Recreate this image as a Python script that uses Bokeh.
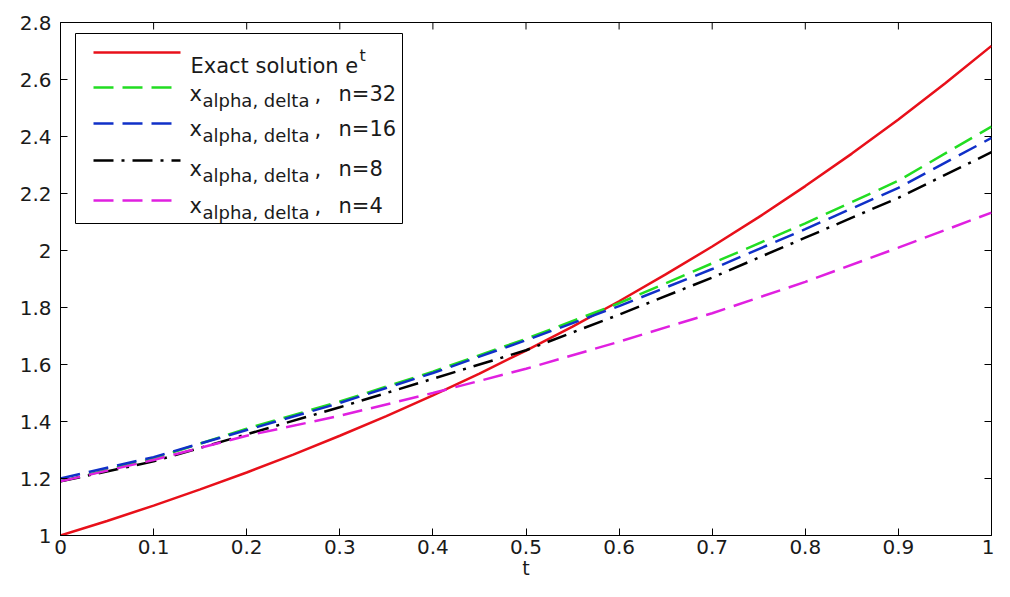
from bokeh.plotting import figure
from bokeh.models import Range1d, FixedTicker, BoxAnnotation, Label, Arrow
from bokeh.embed import file_html
from bokeh.resources import INLINE

# ---- data ----
t_exact = [0.0, 0.05, 0.1, 0.15, 0.2, 0.25, 0.3, 0.35, 0.4, 0.45, 0.5,
           0.55, 0.6, 0.65, 0.7, 0.75, 0.8, 0.85, 0.9, 0.95, 1.0]
exact = [1.000, 1.051, 1.105, 1.162, 1.221, 1.284, 1.350, 1.419, 1.492, 1.568, 1.649,
         1.733, 1.822, 1.916, 2.014, 2.117, 2.226, 2.340, 2.460, 2.586, 2.718]

t = [0.0, 0.1, 0.2, 0.3, 0.4, 0.5, 0.6, 0.7, 0.8, 0.9, 1.0]
n32 = [1.19, 1.27, 1.375, 1.47, 1.575, 1.69, 1.815, 1.955, 2.095, 2.245, 2.435]
n16 = [1.20, 1.275, 1.37, 1.465, 1.57, 1.685, 1.805, 1.935, 2.075, 2.22, 2.395]
n8 = [1.19, 1.26, 1.355, 1.45, 1.55, 1.65, 1.775, 1.905, 2.045, 2.185, 2.345]
n4 = [1.19, 1.265, 1.35, 1.42, 1.50, 1.585, 1.68, 1.78, 1.89, 2.01, 2.133]

x_ticks = [0, 0.1, 0.2, 0.3, 0.4, 0.5, 0.6, 0.7, 0.8, 0.9, 1]
x_tick_labels = ["0", "0.1", "0.2", "0.3", "0.4", "0.5", "0.6", "0.7", "0.8", "0.9", "1"]
y_ticks = [1, 1.2, 1.4, 1.6, 1.8, 2, 2.2, 2.4, 2.6, 2.8]
y_tick_labels = ["1", "1.2", "1.4", "1.6", "1.8", "2", "2.2", "2.4", "2.6", "2.8"]

legend_labels = ["n=32", "n=16", "n=8", "n=4"]

# ---- styling ----
FONT = "DejaVu Sans"
TXT = "#1a1a1a"
RED = "#e8101a"
GREEN = "#22dd22"
BLUE = "#1030c8"
BLACK = "#000000"
MAGENTA = "#e020e0"
DASH = "20 9"
DASHDOT = "20 8 3 8"
LW = 2.5
TICK = 7

X0, X1, Y0, Y1 = 0.0, 1.0, 1.0, 2.8
W, H = 994, 581
ML, MR, MT = 60, 3, 22

p = figure(width=W, height=H, output_backend="svg", toolbar_location=None,
           x_range=Range1d(X0, X1), y_range=Range1d(Y0, Y1),
           min_border_left=ML, min_border_right=MR, min_border_top=MT, min_border_bottom=30)
p.background_fill_color = "white"
p.border_fill_color = "white"
p.outline_line_color = "black"
p.outline_line_width = 1
p.grid.visible = False

def key(v):
    return "%g" % v

for ax, ticks, labels in ((p.xaxis[0], x_ticks, x_tick_labels), (p.yaxis[0], y_ticks, y_tick_labels)):
    ax.ticker = FixedTicker(ticks=ticks)
    ax.major_label_overrides = {key(v): s for v, s in zip(ticks, labels)}
    ax.major_tick_in = TICK
    ax.major_tick_out = 0
    ax.minor_tick_in = 0
    ax.minor_tick_out = 0
    ax.axis_line_color = "black"
    ax.major_tick_line_color = "black"
    ax.major_label_text_font = FONT
    ax.major_label_text_font_size = "20px"
    ax.major_label_text_color = TXT

p.xaxis[0].major_label_standoff = 4
p.yaxis[0].major_label_standoff = 9
p.xaxis[0].axis_label = "t"
p.xaxis[0].axis_label_text_font = FONT
p.xaxis[0].axis_label_text_font_size = "19px"
p.xaxis[0].axis_label_text_font_style = "normal"
p.xaxis[0].axis_label_text_color = TXT
p.xaxis[0].axis_label_standoff = 0

# frame position in canvas pixels (used to convert pixel offsets to data units)
FL, FR, FT, FB = ML, W - MR, MT, 535

def dx(px):
    return X0 + (px - FL) / (FR - FL) * (X1 - X0)

def dy(py):
    return Y1 - (py - FT) / (FB - FT) * (Y1 - Y0)

# inward ticks on the top and right frame edges (MATLAB box style)
tx = TICK / (FR - FL) * (X1 - X0)
ty = TICK / (FB - FT) * (Y1 - Y0)
p.segment(x0=x_ticks, y0=[Y1] * len(x_ticks), x1=x_ticks, y1=[Y1 - ty] * len(x_ticks),
          line_color="black", line_width=1)
p.segment(x0=[X1] * len(y_ticks), y0=y_ticks, x1=[X1 - tx] * len(y_ticks), y1=y_ticks,
          line_color="black", line_width=1)

# ---- curves ----
p.line(t_exact, exact, line_color=RED, line_width=LW)
p.line(t, n32, line_color=GREEN, line_width=LW, line_dash=DASH)
p.line(t, n16, line_color=BLUE, line_width=LW, line_dash=DASH)
p.line(t, n8, line_color=BLACK, line_width=LW, line_dash=DASHDOT)
p.line(t, n4, line_color=MAGENTA, line_width=LW, line_dash=DASH)

# ---- manual legend (positions in canvas pixels converted to data units) ----
p.add_layout(BoxAnnotation(left=dx(75), right=dx(402), top=dy(33), bottom=dy(223),
                           fill_color="white", fill_alpha=1.0,
                           line_color="black", line_width=1, line_alpha=1.0))

sample_rows = [52, 87, 123, 160, 200]
sample_styles = [(RED, None), (GREEN, DASH), (BLUE, DASH), (BLACK, DASHDOT), (MAGENTA, DASH)]
for yy, (c, d) in zip(sample_rows, sample_styles):
    kw = dict(end=None, x_start=dx(93), y_start=dy(yy), x_end=dx(180), y_end=dy(yy),
              line_color=c, line_width=LW)
    if d:
        kw["line_dash"] = d
    p.add_layout(Arrow(**kw))

def lab(px, py, text, size):
    p.add_layout(Label(x=dx(px), y=dy(py), text=text, text_font=FONT,
                       text_font_size=size, text_baseline="alphabetic",
                       text_color=TXT))

lab(190, 65, "Exact solution e", "21px")
lab(359, 55, "t", "16px")

baselines = [93, 128, 168, 205]
for b, nl in zip(baselines, legend_labels):
    lab(189, b, "x", "21px")
    lab(202, b + 7, "alpha, delta", "18px")
    lab(314, b, ",", "21px")
    lab(338, b, nl, "21px")

open("out.html", "w").write(file_html(p, INLINE))
